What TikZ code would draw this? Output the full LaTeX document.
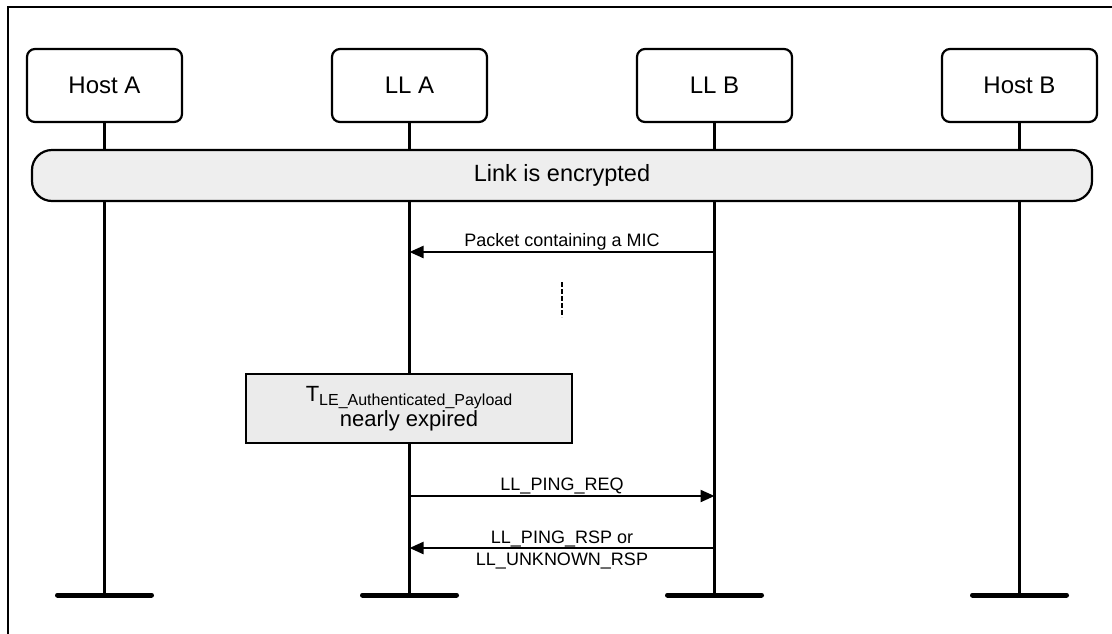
\documentclass[tikz,border=0pt]{standalone}
\usepackage{fontspec}
\setmainfont{Liberation Sans}
\usetikzlibrary{arrows.meta}
\definecolor{barfill}{HTML}{EEEEEE}
\definecolor{notefill}{HTML}{EBEBEB}
\begin{document}
\begin{tikzpicture}[x=1pt,y=-1pt,
  actor/.style={draw, line width=2.2pt, rounded corners=8pt, minimum width=155pt, minimum height=73pt, inner sep=0pt, font=\fontsize{24}{28}\selectfont},
  lifeline/.style={line width=2.2pt},
  endbar/.style={line width=5pt, line cap=round},
  msg/.style={line width=2.2pt, -{Triangle[length=14pt,width=12pt]}},
  lbl/.style={font=\fontsize{18}{22}\selectfont, anchor=base, inner sep=0pt},
  encbar/.style={draw, fill=barfill, line width=2.2pt, rounded corners=20pt, minimum width=1060pt, minimum height=51pt, inner sep=0pt, font=\fontsize{23.5}{27}\selectfont},
  notebox/.style={draw, fill=notefill, line width=2.2pt, minimum width=326pt, minimum height=69pt, inner sep=0pt, align=center, font=\fontsize{22}{25}\selectfont},
  gapline/.style={line width=2.2pt, dash pattern=on 5pt off 2pt}
]
\useasboundingbox (0,0) rectangle (1112,633);
% frame (right and bottom edges fall outside the picture)
\draw[line width=2.2pt] (8,7) rectangle (1125,645);

% actors
\node[actor] (hA) at (104.5,85.5) {Host A};
\node[actor] (lA) at (409.5,85.5) {LL A};
\node[actor] (lB) at (714.5,85.5) {LL B};
\node[actor] (hB) at (1019.5,85.5) {Host B};

% lifeline ends
\coordinate (eA) at (104.5,595);
\coordinate (eLA) at (409.5,595);
\coordinate (eLB) at (714.5,595);
\coordinate (eB) at (1019.5,595);

\draw[lifeline] (hA.south) -- (eA);
\draw[lifeline] (lA.south) -- (eLA);
\draw[lifeline] (lB.south) -- (eLB);
\draw[lifeline] (hB.south) -- (eB);

\draw[endbar] ([xshift=-47pt]eA) -- ([xshift=47pt]eA);
\draw[endbar] ([xshift=-47pt]eLA) -- ([xshift=47pt]eLA);
\draw[endbar] ([xshift=-47pt]eLB) -- ([xshift=47pt]eLB);
\draw[endbar] ([xshift=-47pt]eB) -- ([xshift=47pt]eB);

% encrypted bar
\node[encbar] (enc) at (562,175.5) {Link is encrypted};

% message 1
\coordinate (m1a) at (409.5,252);
\coordinate (m1b) at (714.5,252);
\draw[msg] (m1b) -- (m1a) node[lbl, midway, yshift=6pt] {Packet containing a MIC};

% gap
\coordinate (g1) at (562,282);
\coordinate (g2) at (562,317);
\draw[gapline] (g1) -- (g2);

% timer note
\node[notebox] (tmr) at (409,408.5) {T{\fontsize{16}{18}\selectfont\raisebox{-4pt}{LE\_Authenticated\_Payload}}\\nearly expired};

% ping req
\coordinate (m2a) at (409.5,496);
\coordinate (m2b) at (714.5,496);
\draw[msg] (m2a) -- (m2b) node[lbl, midway, yshift=6pt] {LL\_PING\_REQ};

% ping rsp
\coordinate (m3a) at (409.5,548);
\coordinate (m3b) at (714.5,548);
\draw[msg] (m3b) -- (m3a)
  node[lbl, midway, yshift=5pt] {LL\_PING\_RSP or}
  node[lbl, midway, yshift=-17pt] {LL\_UNKNOWN\_RSP};
\end{tikzpicture}
\end{document}
